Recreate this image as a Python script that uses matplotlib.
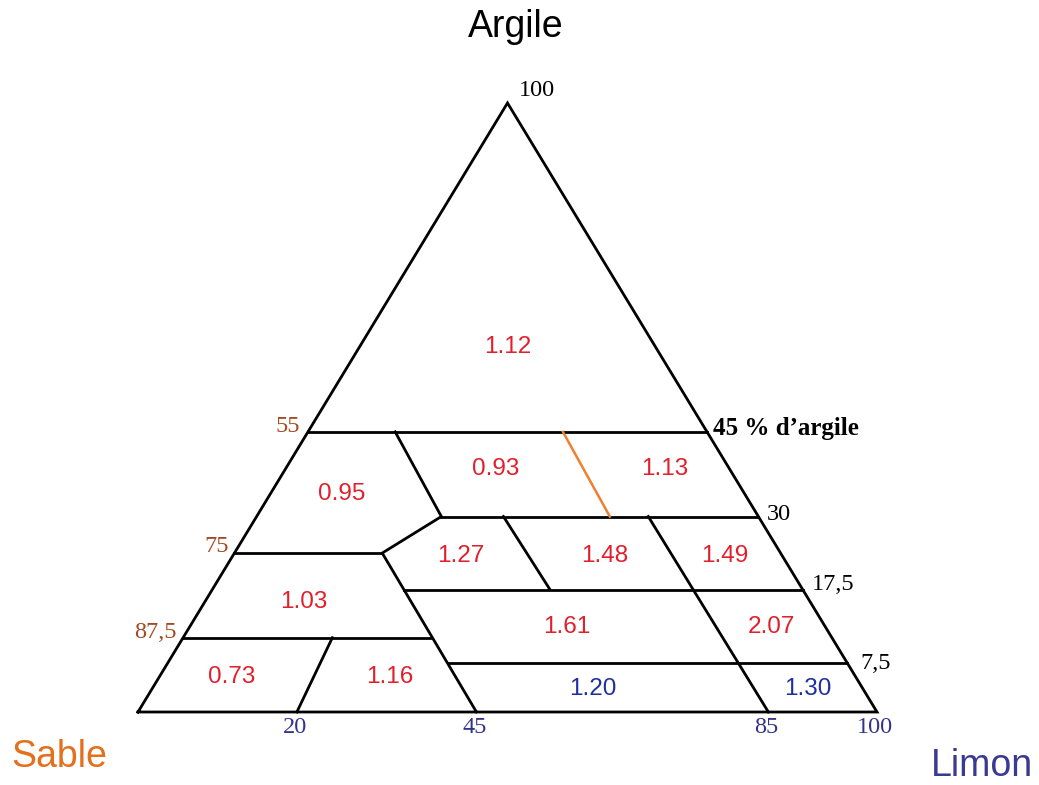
import matplotlib
matplotlib.use("Agg")
import matplotlib.pyplot as plt

# points are (limon %, argile %) as drawn on the triangle
outline = [(0, 0), (100, 0), (0, 100), (0, 0)]
boundaries = [
    [(0, 46.0), (54.0, 46.0)],
    [(25.0, 32.1), (67.9, 32.1)],
    [(25.9, 20.1), (79.9, 20.1)],
    [(38.0, 8.0), (92.0, 8.0)],
    [(0, 26.1), (20.0, 26.1)],
    [(0, 12.2), (33.4, 12.2)],
    [(11.8, 46.0), (25.0, 32.1), (20.0, 26.1), (45.8, 0)],
    [(20.2, 12.2), (21.5, 0)],
    [(33.4, 32.1), (45.7, 20.1)],
    [(53.0, 32.1), (85.3, 0)],
]
split_line = [(34.5, 46.0), (47.8, 32.1)]

region_values = ["1.12", "0.95", "0.93", "1.13", "1.27", "1.48", "1.49",
                 "1.03", "1.61", "2.07", "0.73", "1.16", "1.20", "1.30"]
region_blue = [False] * 12 + [True, True]

apex_tick = "100"
left_ticks = ["55", "75", "87,5"]
right_ticks = ["45 % d\u2019argile", "30", "17,5", "7,5"]
base_ticks = ["20", "45", "85", "100"]

# label positions (x across base, y = height)
region_pos = [(50.1, 58.9), (27.5, 34.8), (48.4, 38.9), (71.3, 38.9),
              (43.7, 24.6), (63.2, 24.6), (79.4, 24.6), (22.5, 17.1),
              (58.0, 13.0), (85.7, 13.0), (12.7, 4.8), (34.0, 4.8),
              (61.6, 2.8), (90.7, 2.8)]
left_pos = [(20.3, 46.8), (10.7, 27.1), (2.4, 13.0)]
right_pos = [(77.8, 46.5), (85.1, 32.5), (91.2, 20.9), (97.7, 8.0)]
base_pos = [(21.2, -2.5), (45.6, -2.5), (85.0, -2.5), (99.7, -2.5)]


def to_xy(pts):
    xs = [s + c / 2 for s, c in pts]
    ys = [c for s, c in pts]
    return xs, ys


fig = plt.figure(figsize=(10.39, 7.85), dpi=100)
ax = fig.add_axes([138 / 1039, 73 / 785, 739 / 1039, 609 / 785])
ax.set_xlim(0, 100)
ax.set_ylim(0, 100)
ax.axis("off")

lw = 2.0
ax.plot(*to_xy(outline), color="black", lw=lw, solid_joinstyle="miter", clip_on=False)
for seg in boundaries:
    ax.plot(*to_xy(seg), color="black", lw=lw, clip_on=False)
ax.plot(*to_xy(split_line), color="#ee8030", lw=1.8, clip_on=False)

sans = "Liberation Sans"
serif = "Liberation Serif"
for val, (x, y), blue in zip(region_values, region_pos, region_blue):
    ax.text(x, y, val, ha="center", va="baseline", fontsize=17.5, family=sans,
            color="#1f2fa0" if blue else "#e0202c")

ax.text(54.0, 102.0, apex_tick, ha="center", va="center", fontsize=17.5, family=serif)
for lab, (x, y) in zip(left_ticks, left_pos):
    ax.text(x, y, lab, ha="center", va="center", fontsize=17.5, family=serif, color="#a24a22")
for i, (lab, (x, y)) in enumerate(zip(right_ticks, right_pos)):
    ax.text(x, y, lab, ha="left", va="center", family=serif,
            fontsize=18 if i == 0 else 17.5,
            fontweight="bold" if i == 0 else "normal")
for lab, (x, y) in zip(base_ticks, base_pos):
    ax.text(x, y, lab, ha="center", va="center", fontsize=17.5, family=serif, color="#33338c")

ax.text(51.1, 110.8, "Argile", ha="center", va="baseline", fontsize=27, family=sans)
ax.text(-10.7, -9.0, "Sable", ha="center", va="baseline", fontsize=27, family=sans, color="#e4701e")
ax.text(114.2, -11.8, "Limon", ha="center", va="bottom", fontsize=27, family=sans, color="#3a3a92")

fig.savefig("out.png", dpi=100)
